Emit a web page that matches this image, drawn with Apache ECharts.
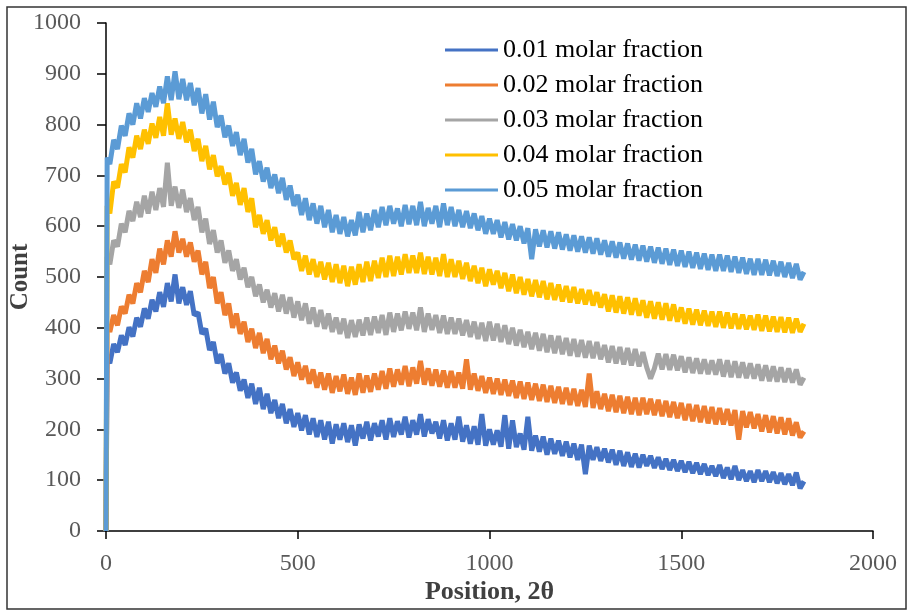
<!DOCTYPE html>
<html>
<head>
<meta charset="utf-8">
<script src="https://cdn.jsdelivr.net/npm/echarts@6/dist/echarts.min.js"></script>
<style>html,body{margin:0;padding:0;background:#fff}#c{width:908px;height:611px}</style>
</head>
<body>
<div id="c"></div>
<script>
const seriesNames = ['0.01 molar fraction','0.02 molar fraction','0.03 molar fraction','0.04 molar fraction','0.05 molar fraction'];
const xTicks = [0, 500, 1000, 1500, 2000];
const yTicks = [0,100,200,300,400,500,600,700,800,900,1000];
const positions = [0,3,
10,20,30,40,50,60,70,80,90,100,110,120,130,140,150,160,170,180,190,
200,210,220,230,240,250,260,270,280,290,300,310,320,330,340,350,360,370,380,390,
400,410,420,430,440,450,460,470,480,490,500,510,520,530,540,550,560,570,580,590,
600,610,620,630,640,650,660,670,680,690,700,710,720,730,740,750,760,770,780,790,
800,810,820,830,840,850,860,870,880,890,900,910,920,930,940,950,960,970,980,990,
1000,1010,1020,1030,1040,1050,1060,1070,1080,1090,1100,1110,1120,1130,1140,1150,1160,1170,1180,1190,
1200,1210,1220,1230,1240,1250,1260,1270,1280,1290,1300,1310,1320,1330,1340,1350,1360,1370,1380,1390,
1400,1410,1420,1430,1440,1450,1460,1470,1480,1490,1500,1510,1520,1530,1540,1550,1560,1570,1580,1590,
1600,1610,1620,1630,1640,1650,1660,1670,1680,1690,1700,1710,1720,1730,1740,1750,1760,1770,1780,1790,
1800,1810,1820];
const frac001 = [0,340,
330,368,352,385,366,401,383,420,402,
438,418,455,432,470,441,488,452,505,448,
480,445,472,425,430,388,398,356,372,330,
348,310,330,292,312,276,298,262,290,250,
282,240,270,232,258,222,250,212,240,205,
232,198,228,190,222,185,218,180,215,172,
210,180,212,175,208,168,210,182,215,178,
212,186,218,180,222,185,216,190,225,184,
218,190,230,186,220,192,215,182,218,178,
212,180,225,176,208,172,206,170,230,168,
200,170,198,166,228,162,218,165,192,160,
225,158,188,156,186,150,182,152,178,148,
176,145,172,140,170,112,168,140,165,138,
162,135,160,130,158,128,155,126,152,125,
150,128,148,124,145,122,142,120,140,118,
138,116,136,114,134,112,132,110,128,108,
130,104,125,102,128,100,120,98,118,96,
120,98,118,96,116,94,114,92,112,90,
115,84,98];
const frac002 = [0,405,
392,425,405,442,428,465,448,488,470,
512,490,535,508,556,525,572,540,590,548,
575,540,568,530,552,505,530,478,500,448,
470,425,448,400,428,388,412,372,398,360,
390,350,378,338,365,330,355,318,342,305,
332,298,325,290,318,282,312,278,310,272,
305,275,308,270,302,268,310,272,306,274,
310,278,315,280,320,284,318,288,325,285,
322,290,335,288,320,286,318,284,316,282,
315,282,312,280,338,278,310,276,305,272,
302,270,300,268,298,266,296,262,294,260,
292,258,290,256,288,254,286,252,284,250,
282,248,280,246,278,244,310,242,275,240,
270,236,268,234,266,232,264,230,262,228,
262,230,260,228,258,226,256,224,254,222,
252,218,250,216,248,214,246,212,244,210,
242,210,240,208,238,180,236,204,234,202,
230,196,228,194,226,192,224,190,222,188,
214,184,196];
const frac003 = [0,540,
525,572,560,605,588,630,610,648,618,
660,625,668,632,675,638,725,640,678,636,
672,628,655,612,638,588,615,565,592,548,
572,528,552,512,535,495,518,480,500,462,
485,450,475,440,468,432,465,428,460,420,
452,415,448,408,440,402,435,398,428,392,
420,388,418,380,415,382,416,385,420,386,
422,390,425,386,430,392,428,395,432,398,
430,395,440,392,428,396,425,390,424,388,
420,388,418,385,415,382,412,378,410,374,
412,375,408,372,405,368,400,365,396,362,
392,358,390,355,388,352,385,350,384,348,
380,345,378,343,376,341,374,340,372,338,
366,332,364,330,362,328,360,326,358,324,
352,322,300,320,349,318,348,317,347,316,
344,312,342,311,340,310,338,309,336,308,
338,304,336,303,334,302,332,301,330,300,
328,296,326,295,324,294,322,293,320,292,
318,288,302];
const frac004 = [0,640,
625,688,676,722,706,755,735,778,752,
790,762,802,774,815,778,842,780,812,772,
805,765,790,748,772,728,758,712,740,698,
718,682,705,660,685,642,675,628,655,598,
622,585,612,572,598,560,585,548,572,535,
548,512,542,505,535,500,530,495,528,490,
525,488,522,482,520,485,525,490,530,492,
532,498,538,500,542,502,540,505,545,508,
542,508,548,506,540,505,538,502,545,500,
535,500,532,496,528,492,522,488,518,482,
515,485,512,478,508,472,505,468,500,465,
496,462,494,460,492,456,488,455,485,452,
482,450,480,448,476,446,474,444,470,440,
466,432,464,430,462,428,460,426,458,424,
454,420,452,418,450,416,448,414,446,412,
440,408,438,406,436,405,434,404,432,402,
432,400,430,399,428,398,426,397,424,396,
426,394,424,393,422,392,421,391,420,390,
418,392,408];
const frac005 = [0,735,
722,770,752,798,778,822,800,842,812,
852,825,862,835,875,842,895,848,905,850,
890,848,882,838,872,822,860,810,845,795,
818,775,798,758,785,740,772,725,752,702,
728,688,715,675,702,665,695,652,680,640,
662,622,655,612,645,605,640,598,632,588,
622,585,618,580,612,582,628,588,625,592,
632,598,638,602,640,605,635,600,642,604,
640,602,648,600,636,605,640,598,645,602,
638,600,632,598,630,596,625,592,620,585,
615,585,612,578,608,574,604,572,600,566,
596,535,594,560,592,558,590,556,588,554,
584,552,582,550,580,548,578,546,576,544,
572,540,570,538,568,536,566,534,564,532,
562,530,560,528,558,526,556,524,554,522,
552,520,550,518,548,516,546,514,544,512,
544,512,542,510,540,508,538,506,536,504,
536,504,534,503,532,502,530,500,528,498,
526,495,510];
const seriesValues = [frac001, frac002, frac003, frac004, frac005];
const colors = ['#4472C4','#ED7D31','#A5A5A5','#FFC000','#5B9BD5'];

const chart = echarts.init(document.getElementById('c'), null, {renderer:'canvas'});
const serif = '"Liberation Serif","Times New Roman",serif';
chart.setOption({
  animation: false,
  color: colors,
  graphic: [{type:'rect', shape:{x:7,y:7,width:899,height:602}, style:{fill:'none', stroke:'#333', lineWidth:1.5}, z:-1}],
  grid: {left:106, right:35, top:23, bottom:80, containLabel:false, outerBoundsMode:'none'},
  legend: {
    orient:'vertical', left:445, top:37, padding:0, itemWidth:53, itemHeight:3, itemGap:9,
    icon:'rect',
    textStyle:{fontFamily:serif, fontSize:26, color:'#000'},
    data: seriesNames
  },
  xAxis: {
    type:'value', min:xTicks[0], max:xTicks[xTicks.length-1], interval:500,
    name:'Position, 2θ', nameLocation:'middle', nameGap:48, nameMoveOverlap:false,
    nameTextStyle:{fontFamily:serif, fontSize:26, fontWeight:'bold', color:'#404040'},
    axisLine:{lineStyle:{color:'#000', width:1.5}},
    axisTick:{show:true, length:8, lineStyle:{color:'#000', width:1.5}},
    axisLabel:{fontFamily:serif, fontSize:24, color:'#595959', margin:21, formatter:(v)=>String(v)},
    splitLine:{show:false}
  },
  yAxis: {
    type:'value', min:yTicks[0], max:yTicks[yTicks.length-1], interval:100,
    name:'Count', nameLocation:'middle', nameGap:73, nameMoveOverlap:false,
    nameTextStyle:{fontFamily:serif, fontSize:25, fontWeight:'bold', color:'#404040'},
    axisLine:{show:true, lineStyle:{color:'#000', width:1.5}},
    axisTick:{show:true, length:9, lineStyle:{color:'#000', width:1.5}},
    axisLabel:{fontFamily:serif, fontSize:24, color:'#595959', margin:25, formatter:(v)=>String(v)},
    splitLine:{show:false}
  },
  series: seriesNames.map((n,k)=>({
    name:n, type:'line', symbol:'none', showSymbol:false,
    lineStyle:{width:5, color:colors[k]},
    data: positions.map((x,i)=>[x, seriesValues[k][i]])
  }))
});
</script>
</body>
</html>
